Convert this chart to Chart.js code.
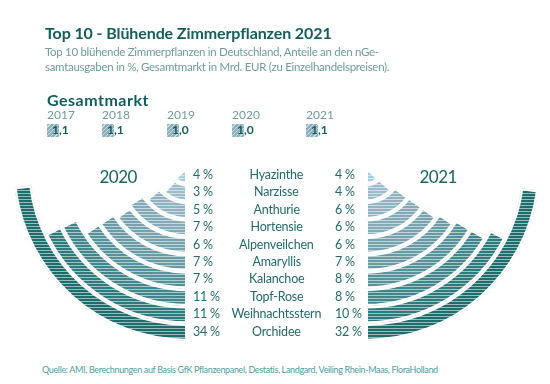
<!DOCTYPE html>
<html><head><meta charset="utf-8">
<script src="https://cdn.jsdelivr.net/npm/chart.js@4.4.0/dist/chart.umd.min.js"></script>
<style>
html,body{margin:0;padding:0;background:#fff;}
body{width:550px;height:384px;position:relative;overflow:hidden;font-family:Lato,"Open Sans",sans-serif;}
.t{position:absolute;white-space:nowrap;z-index:2;line-height:1;}
canvas{position:absolute;z-index:1;}
.box{position:absolute;z-index:2;width:12px;height:13px;border-radius:1px;
 background:repeating-linear-gradient(135deg,#8db0bf 0 2px,#c9dbe2 2px 3px);}
</style></head><body>
<canvas id="cL" width="348" height="348" style="left:13px;top:-7px;width:348px;height:348px"></canvas>
<canvas id="cR" width="348" height="348" style="left:192px;top:-7px;width:348px;height:348px"></canvas>
<script>
// ---------- DATA ----------
const categories = ['Hyazinthe','Narzisse','Anthurie','Hortensie','Alpenveilchen','Amaryllis','Kalanchoe','Topf-Rose','Weihnachtsstern','Orchidee'];
const share2020 = [4, 3, 5, 7, 6, 7, 7, 11, 11, 34];
const share2021 = [4, 4, 6, 6, 6, 7, 8, 8, 10, 32];
const marketYears = ['2017','2018','2019','2020','2021'];
const marketValues = [1.1, 1.1, 1.0, 1.0, 1.1];

// ---------- STYLE / LAYOUT ----------
const palette = ['#a7cde0','#9bbccb','#91b3c1','#84aab8','#77a2ae','#689ba4','#559299','#40868b','#2d7b7c','#1d6d6c'];
const marketX = [47, 102, 167, 232, 306];
const RING_CY = 167, RING_STEP = 17.4;
// angular scale of the ring arcs (degrees, log-type scale as in the original graphic)
const angleScale = v => 25 + 16.5 * Math.log(v);

function txt(s, x, base, size, color, opts = {}) {
  const d = document.createElement('div');
  d.className = 't';
  d.textContent = s;
  d.style.fontSize = size + 'px';
  d.style.color = color;
  d.style.fontWeight = opts.bold ? '700' : '400';
  if (opts.ls !== undefined) d.style.letterSpacing = opts.ls + 'px';
  d.style.top = (base - 0.89 * size) + 'px';
  document.body.appendChild(d);
  if (opts.align === 'center') d.style.left = (x - d.offsetWidth / 2) + 'px';
  else if (opts.align === 'right') d.style.left = (x - d.offsetWidth) + 'px';
  else d.style.left = x + 'px';
  return d;
}

const DARK = '#135d5c', GREY = '#6f9c9b', MID = '#246a6a';
txt('Top 10 - Blühende Zimmerpflanzen 2021', 45, 39, 16, DARK, {bold: true, ls: -0.1});
txt('Top 10 blühende Zimmerpflanzen in Deutschland, Anteile an den nGe-', 45, 56, 11.5, GREY, {ls: -0.3});
txt('samtausgaben in %, Gesamtmarkt in Mrd. EUR (zu Einzelhandelspreisen).', 45, 71, 11.5, GREY, {ls: -0.3});
txt('Gesamtmarkt', 47, 106, 16, DARK, {bold: true, ls: 0.5});
marketYears.forEach((y, i) => {
  txt(y, marketX[i], 120, 12, GREY);
  const b = document.createElement('div');
  b.className = 'box';
  b.style.left = marketX[i] + 'px';
  b.style.top = '124px';
  document.body.appendChild(b);
  txt(marketValues[i].toFixed(1).replace('.', ','), marketX[i] + 5, 135, 12, DARK, {bold: true});
});
txt('2020', 118, 183, 17, '#1b6463', {align: 'center', ls: -0.5});
txt('2021', 438, 183, 17, '#1b6463', {align: 'center', ls: -0.5});
categories.forEach((c, i) => {
  const base = RING_CY + RING_STEP * (i + 0.5) + 4.5;
  txt(c, 276.5, base, 12.5, MID, {align: 'center', ls: -0.2});
  txt(share2020[i] + ' %', 193, base, 12.5, MID, {ls: -0.2});
  txt(share2021[i] + ' %', 335, base, 12.5, MID, {ls: -0.2});
});
txt('Quelle: AMI, Berechnungen auf Basis GfK Pflanzenpanel, Destatis, Landgard, Veiling Rhein-Maas, FloraHolland', 42, 373, 9, '#4d9f9e', {ls: -0.35});

// ---------- CHARTS ----------
function hatch(ctx, color) {
  const c = document.createElement('canvas');
  c.width = 6; c.height = 3;
  const g = c.getContext('2d');
  g.fillStyle = color; g.fillRect(0, 0, 6, 3);
  g.fillStyle = 'rgba(255,255,255,0.55)'; g.fillRect(0, 2, 6, 1);
  return ctx.createPattern(c, 'repeat');
}

function makeRings(canvasId, values, side) {
  const canvas = document.getElementById(canvasId);
  const ctx = canvas.getContext('2d');
  const datasets = [{data: [1], weight: 0, backgroundColor: 'rgba(0,0,0,0)', borderWidth: 0, rotation: 0, circumference: 360}];
  for (let i = values.length - 1; i >= 0; i--) {
    const a = angleScale(values[i]);
    datasets.push({
      label: categories[i],
      data: [values[i]],
      backgroundColor: hatch(ctx, palette[i]),
      borderColor: '#ffffff',
      borderWidth: 2,
      borderAlign: 'inner',
      rotation: side === 'left' ? 180 : 180 - a,
      circumference: a
    });
  }
  new Chart(ctx, {
    type: 'pie',
    data: {labels: ['share'], datasets},
    options: {
      responsive: false,
      animation: false,
      events: [],
      cutout: 0,
      layout: {padding: 0},
      hoverOffset: 0,
      offset: 0,
      plugins: {legend: {display: false}, tooltip: {enabled: false}}
    }
  });
}
makeRings('cL', share2020, 'left');
makeRings('cR', share2021, 'right');
</script>
</body></html>
